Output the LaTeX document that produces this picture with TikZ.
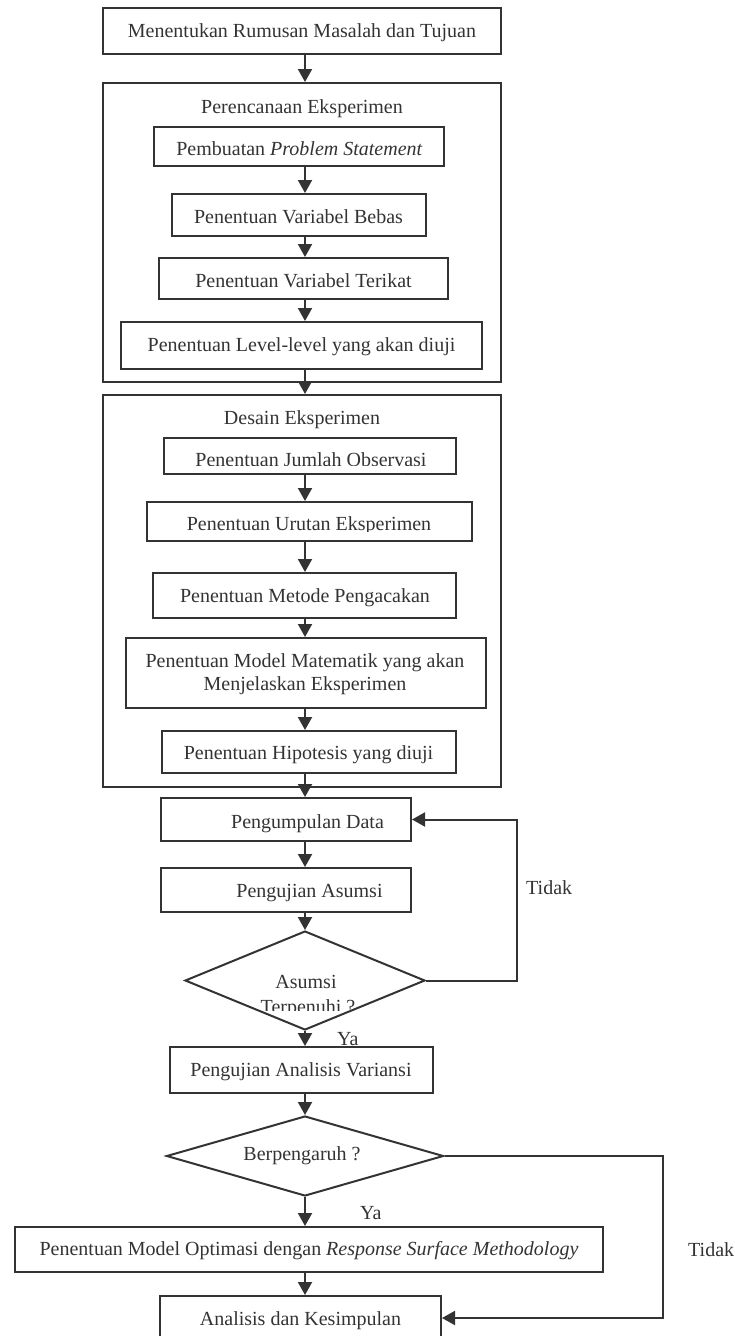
\documentclass[tikz,border=0pt]{standalone}
\usepackage{fontspec}
\setmainfont{Liberation Serif}
\usetikzlibrary{arrows.meta,shapes.geometric}
\definecolor{ink}{HTML}{333333}
\begin{document}
\begin{tikzpicture}[x=1pt,y=-1pt,
  every node/.style={font=\fontsize{20}{23}\selectfont, text=ink},
  box/.style={draw=ink, line width=2pt, inner sep=0pt, rectangle},
  txt/.style={inner sep=0pt, align=center, anchor=base},
  dia/.style={draw=ink, line width=2pt, shape=diamond, inner sep=0pt},
  arr/.style={draw=ink, line width=2pt, -{Triangle[width=14pt,length=13pt]}},
  conn/.style={draw=ink, line width=2pt}]
\useasboundingbox (0,0) rectangle (734,1336);
\coordinate (ax) at (305,0);

% top box
\node[box, minimum width=398pt, minimum height=46pt] (top) at (302,31) {};
\node[txt] (topT) at (302,37) {Menentukan Rumusan Masalah dan Tujuan};

% Perencanaan
\node[box, minimum width=398pt, minimum height=299pt] (o1) at (302,232.5) {};
\node[txt] (o1T) at (302,113) {Perencanaan Eksperimen};
\node[box, minimum width=290pt, minimum height=39pt] (b1) at (299,146.5) {};
\node[txt] (b1T) at (299.5,155.5) {Pembuatan \textit{Problem Statement}};
\node[box, minimum width=254pt, minimum height=42pt] (b2) at (299,215) {};
\node[txt] (b2T) at (298.5,223) {Penentuan Variabel Bebas};
\node[box, minimum width=289pt, minimum height=41pt] (b3) at (303.5,278.5) {};
\node[txt] (b3T) at (303.5,287) {Penentuan Variabel Terikat};
\node[box, minimum width=361pt, minimum height=47pt] (b4) at (301.5,345.5) {};
\node[txt] (b4T) at (301.5,351) {Penentuan Level-level yang akan diuji};

% Desain
\node[box, minimum width=398pt, minimum height=392pt] (o2) at (302,591) {};
\node[txt] (o2T) at (302,424) {Desain Eksperimen};
\node[box, minimum width=292pt, minimum height=36pt] (c1) at (310,456) {};
\begin{scope}
\clip (165,440) rectangle (455,465);
\node[txt] (c1T) at (311,466) {Penentuan Jumlah Observasi};
\end{scope}
\node[box, minimum width=325pt, minimum height=39pt] (c2) at (309.5,521.5) {};
\begin{scope}
\clip (148,504) rectangle (471,531);
\node[txt] (c2T) at (309,530) {Penentuan Urutan Eksperimen};
\end{scope}
\node[box, minimum width=303pt, minimum height=45pt] (c3) at (304.5,595.5) {};
\node[txt] (c3T) at (305,602) {Penentuan Metode Pengacakan};
\node[box, minimum width=360pt, minimum height=70pt] (c4) at (306,673) {};
\node[inner sep=0pt, align=center] (c4T) at (305,674) {Penentuan Model Matematik yang akan\\Menjelaskan Eksperimen};
\node[box, minimum width=294pt, minimum height=42pt] (c5) at (309,752) {};
\node[txt] (c5T) at (308.5,759) {Penentuan Hipotesis yang diuji};

% lower chain
\node[box, minimum width=250pt, minimum height=43pt] (pd) at (286,819.5) {};
\node[txt] (pdT) at (307.5,828) {Pengumpulan Data};
\node[box, minimum width=250pt, minimum height=44pt] (pa) at (286,890) {};
\node[txt] (paT) at (309.5,897) {Pengujian Asumsi};
\node[dia, minimum width=240pt, minimum height=99pt] (d1) at (305,980.5) {};
\node[txt] (d1T) at (306,988) {Asumsi};
\begin{scope}
\clip (220,995) rectangle (400,1010);
\node[txt] (d1T2) at (308,1013) {Terpenuhi ?};
\end{scope}
\node[box, minimum width=263pt, minimum height=46pt] (av) at (301.5,1070) {};
\node[txt] (avT) at (301,1076) {Pengujian Analisis Variansi};
\node[dia, minimum width=277pt, minimum height=80pt] (d2) at (305,1156) {};
\node[txt] (d2T) at (302,1160) {Berpengaruh ?};
\node[box, minimum width=588pt, minimum height=45pt] (rs) at (309,1249.5) {};
\node[txt] (rsT) at (309,1255) {Penentuan Model Optimasi dengan \textit{Response Surface Methodology}};
\node[box, minimum width=281pt, minimum height=44pt] (ak) at (300.5,1318) {};
\node[txt] (akT) at (300.5,1325) {Analisis dan Kesimpulan};

% labels
\node[txt, anchor=base west] (tidak1) at (526,894) {Tidak};
\node[txt, anchor=base west] (tidak2) at (688,1256) {Tidak};
\node[txt, anchor=base west] (ya1) at (337,1045) {Ya};
\node[txt, anchor=base west] (ya2) at (360,1219) {Ya};

% arrows
\draw[arr] (top.south -| ax) -- (o1.north -| ax);
\draw[arr] (b1.south -| ax) -- (b2.north -| ax);
\draw[arr] (b2.south -| ax) -- (b3.north -| ax);
\draw[arr] (b3.south -| ax) -- (b4.north -| ax);
\draw[arr] (b4.south -| ax) -- (o2.north -| ax);
\draw[arr] (c1.south -| ax) -- (c2.north -| ax);
\draw[arr] (c2.south -| ax) -- (c3.north -| ax);
\draw[arr] (c3.south -| ax) -- (c4.north -| ax);
\draw[arr] (c4.south -| ax) -- (c5.north -| ax);
\draw[arr] (c5.south -| ax) -- (pd.north -| ax);
\draw[arr] (pd.south -| ax) -- (pa.north -| ax);
\draw[arr] (pa.south -| ax) -- (d1.north);
\draw[arr] (d1.south) -- (av.north -| ax);
\draw[arr] (av.south -| ax) -- (d2.north);
\draw[arr] (d2.south) -- (rs.north -| ax);
\draw[arr] (rs.south -| ax) -- (ak.north -| ax);
\coordinate (r1) at (517,980.5);
\draw[arr] (d1.east) -- (r1) |- (pd.east);
\coordinate (r2) at (663,1159);
\draw[arr] (d2.east) -- (d2.east -| r2) |- (ak.east);
\end{tikzpicture}
\end{document}
